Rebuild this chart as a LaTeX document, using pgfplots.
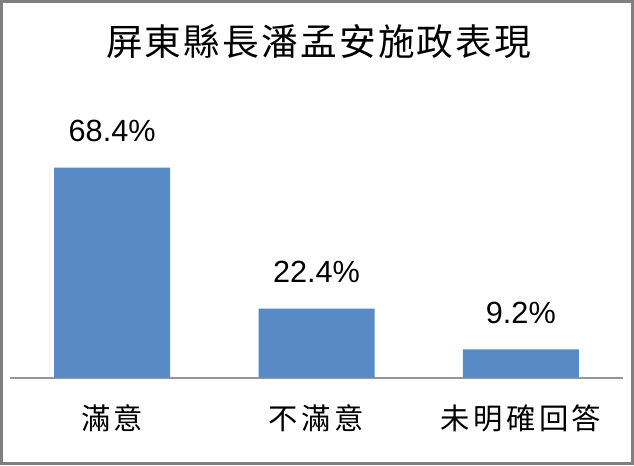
\documentclass[border=0pt]{standalone}
\usepackage{pgfplots}
\pgfplotsset{compat=1.18}
\usepackage{fontspec}
\setmainfont{Liberation Sans}
\newfontfamily\cjktitle[LetterSpace=6]{Noto Sans CJK TC}
\newfontfamily\cjklab[LetterSpace=12]{Noto Sans CJK TC}
\definecolor{barblue}{RGB}{88,138,198}
\definecolor{axgray}{RGB}{150,150,150}
\definecolor{framegray}{RGB}{128,128,128}
\begin{document}
\begin{tikzpicture}
\useasboundingbox (0,0) rectangle (475.5pt,348.75pt);
\fill[white] (0,0) rectangle (475.5pt,348.75pt);
\draw[framegray, line width=2.25pt] (1.125pt,1.125pt) rectangle (474.375pt,347.625pt);
\node[font={\cjktitle\fontsize{27.5pt}{32pt}\selectfont}, anchor=center] at (239pt,317.25pt) {屏東縣長潘孟安施政表現};
\begin{axis}[
  at={(7.5pt,65.625pt)}, anchor=south west,
  scale only axis,
  width=459.75pt, height=184.2pt,
  xmin=-0.5, xmax=2.5, ymin=0, ymax=80,
  axis x line=bottom, axis y line=none,
  axis line style={axgray, line width=1.5pt, -},
  xtick={0,1,2},
  xticklabels={滿意,不滿意,未明確回答},
  major tick length=0pt,
  xticklabel style={font={\cjklab\fontsize{22pt}{26pt}\selectfont}, anchor=center, inner sep=0pt, yshift=-30.4pt},
  ytick=\empty,
  ybar, bar width=87pt,
  /pgf/number format/assume math mode=true,
  nodes near coords={\pgfmathprintnumber[fixed,fixed zerofill,precision=1,assume math mode=true]{\pgfplotspointmeta}\%},
  every node near coord/.append style={font=\fontsize{23pt}{27pt}\selectfont, black, anchor=base, inner sep=0pt, yshift=19.5pt},
  clip=false,
]
\addplot[fill=barblue, draw=none] coordinates {(0,68.4) (1,22.4) (2,9.2)};
\end{axis}
\end{tikzpicture}
\end{document}
